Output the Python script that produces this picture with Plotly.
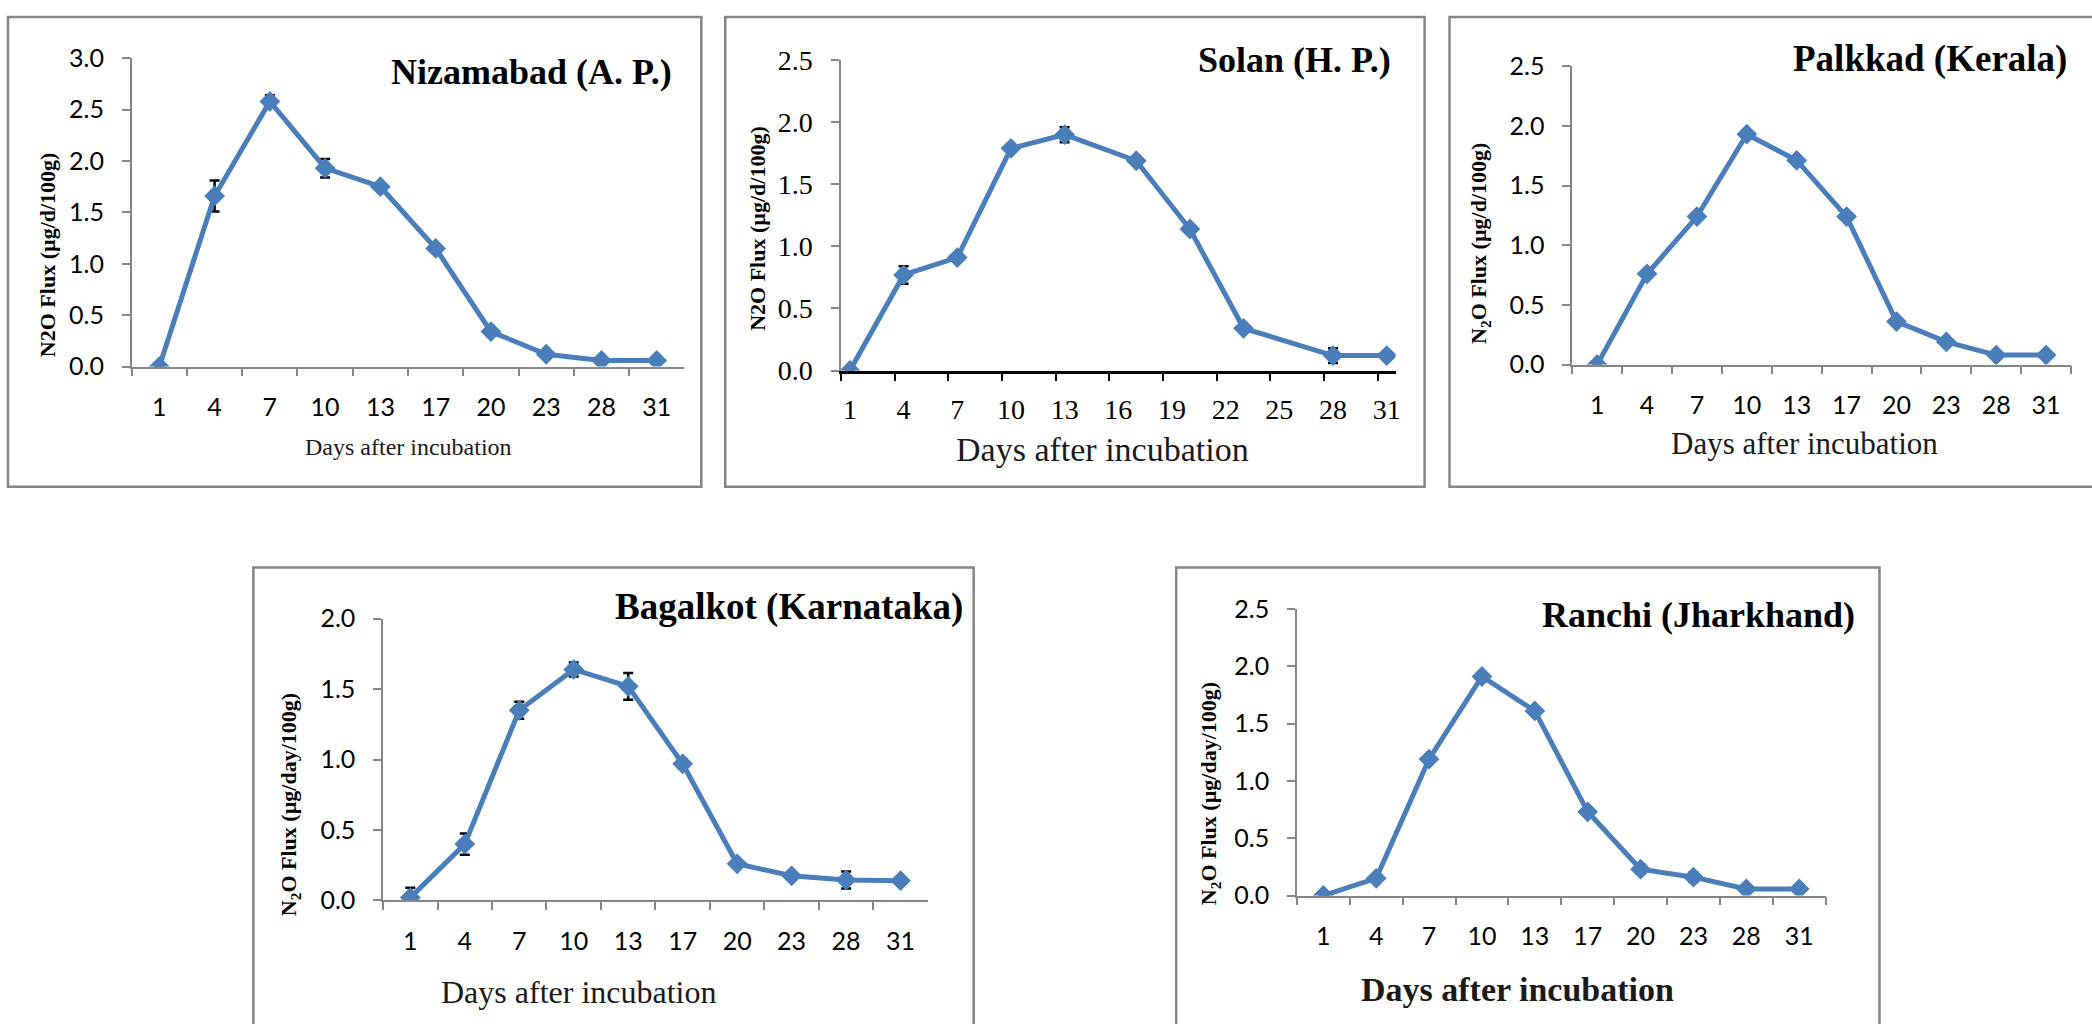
import plotly.graph_objects as go

W, H = 2092, 1024

# Sampling days (days after incubation)
days = [1, 4, 7, 10, 13, 17, 20, 23, 28, 31]
day_labels = [str(d) for d in days]
solan_tick_days = [1, 4, 7, 10, 13, 16, 19, 22, 25, 28, 31]

# N2O flux means and standard errors for each site
nizamabad = [0.0, 1.66, 2.58, 1.93, 1.75, 1.15, 0.34, 0.12, 0.06, 0.06]
nizamabad_err = [0.0, 0.15, 0.06, 0.09, 0.02, 0.02, 0.02, 0.02, 0.02, 0.02]

solan = [0.0, 0.77, 0.91, 1.79, 1.90, 1.69, 1.14, 0.34, 0.12, 0.12]
solan_err = [0.0, 0.07, 0.03, 0.03, 0.06, 0.02, 0.03, 0.02, 0.06, 0.02]

palkkad = [0.0, 0.76, 1.24, 1.93, 1.71, 1.24, 0.36, 0.19, 0.08, 0.08]
palkkad_err = [0.0, 0.02, 0.02, 0.03, 0.02, 0.02, 0.02, 0.02, 0.02, 0.02]

bagalkot = [0.02, 0.40, 1.35, 1.64, 1.52, 0.97, 0.26, 0.175, 0.145, 0.14]
bagalkot_err = [0.07, 0.075, 0.06, 0.05, 0.095, 0.03, 0.02, 0.02, 0.06, 0.02]

ranchi = [0.0, 0.15, 1.19, 1.91, 1.61, 0.73, 0.23, 0.16, 0.057, 0.057]
ranchi_err = [0.0, 0.02, 0.02, 0.02, 0.02, 0.02, 0.04, 0.04, 0.02, 0.02]

site_titles = ["Nizamabad (A. P.)", "Solan (H. P.)", "Palkkad (Kerala)",
               "Bagalkot (Karnataka)", "Ranchi (Jharkhand)"]
y_titles = ["N2O Flux (µg/d/100g)", "N2O Flux (µg/d/100g)",
            "N<sub>2</sub>O Flux (µg/d/100g)",
            "N<sub>2</sub>O Flux (µg/day/100g)",
            "N<sub>2</sub>O Flux (µg/day/100g)"]
x_title = "Days after incubation"
y_max = [3.0, 2.5, 2.5, 2.0, 2.5]

BLUE = "#4a7ebb"
GRAY = "#868686"
SERIF = "Liberation Serif, Times New Roman, serif"
SANS = "Lato, Calibri, Carlito, sans-serif"

# The page shows the figure shifted down a few pixels and slightly squeezed
# vertically; pixel rows below are page rows, converted back to figure rows.
PAGE_OFFSET, PAGE_SCALE = 9.1, 0.9835


def xp(px):
    return px / W


def yp(py):
    return 1 - ((py - PAGE_OFFSET) / PAGE_SCALE) / H


# Pixel layout of each panel: frame box, plot area, title / axis-title anchors
panels = [
    dict(box=(8, 10, 703, 487), xa=(132, 686), ya=(52, 365),
         title=(676, 66, 36), xt=(409, 447, 24, False), yt=(47, 251),
         xstand=18),
    dict(box=(727, 10, 1428, 487), xa=(843, 1399), ya=(54, 369),
         title=(1396, 54, 36), xt=(1105, 449, 34, False), yt=(759, 225),
         xstand=4),
    dict(box=(1453, 10, 2110, 487), xa=(1576, 2076), ya=(60, 363),
         title=(2074, 53, 37), xt=(1809, 443, 31, False), yt=(1484, 240),
         xstand=18),
    dict(box=(254, 569, 976, 1045), xa=(384, 930), ya=(621, 907),
         title=(967, 609, 37), xt=(580, 1000, 32, False), yt=(291, 810),
         xstand=18),
    dict(box=(1179, 569, 1884, 1045), xa=(1300, 1830), ya=(611, 902),
         title=(1861, 617, 36), xt=(1521, 997, 34, True), yt=(1213, 799),
         xstand=18),
]

series = [
    (nizamabad, nizamabad_err),
    (solan, solan_err),
    (palkkad, palkkad_err),
    (bagalkot, bagalkot_err),
    (ranchi, ranchi_err),
]

fig = go.Figure()
shapes = []
annotations = []
layout = {}

for i, (p, (vals, errs)) in enumerate(zip(panels, series)):
    n = i + 1
    xa_name = "xaxis" if n == 1 else f"xaxis{n}"
    ya_name = "yaxis" if n == 1 else f"yaxis{n}"
    xref = "x" if n == 1 else f"x{n}"
    yref = "y" if n == 1 else f"y{n}"
    is_solan = (i == 1)

    xs = days if is_solan else day_labels
    fig.add_trace(go.Scatter(
        x=xs, y=vals, xaxis=xref, yaxis=yref,
        mode="lines+markers",
        line=dict(color=BLUE, width=5),
        marker=dict(symbol="diamond", size=16, color=BLUE),
        error_y=dict(type="data", array=errs, visible=True,
                     color="black", thickness=2.5, width=5),
        showlegend=False, hoverinfo="x+y",
    ))

    tick_font = dict(family=SERIF if is_solan else SANS,
                     size=28 if is_solan else 25, color="black")

    if is_solan:
        xaxis = dict(
            type="linear", range=[0.5, 31.5],
            tickmode="array", tickvals=solan_tick_days,
            ticktext=[str(t) for t in solan_tick_days],
            ticks="outside", ticklen=8, tickcolor="rgba(0,0,0,0)",
            showline=True, linecolor="black", linewidth=2.5,
            minor=dict(tickmode="array",
                       tickvals=[0.5 + 3 * k for k in range(11)],
                       ticks="outside", ticklen=8, tickcolor="black",
                       tickwidth=2, showgrid=False),
        )
    else:
        xaxis = dict(
            type="category", range=[-0.5, len(days) - 0.5],
            tickson="boundaries",
            ticks="outside", ticklen=8, tickcolor=GRAY, tickwidth=1.5,
            showline=True, linecolor=GRAY, linewidth=1.5,
        )
    xaxis.update(
        domain=[xp(p["xa"][0]), xp(p["xa"][1])],
        anchor=yref, showgrid=False, zeroline=False,
        tickfont=tick_font, ticklabelstandoff=p["xstand"], fixedrange=True,
    )
    yaxis = dict(
        domain=[yp(p["ya"][1]), yp(p["ya"][0])],
        anchor=xref, range=[0, y_max[i]], dtick=0.5, tick0=0,
        tickformat=".1f", ticks="outside", ticklen=8,
        tickcolor=GRAY, tickwidth=1.5,
        showline=True, linecolor=GRAY, linewidth=1.5,
        showgrid=False, zeroline=False, tickfont=tick_font,
        ticklabelstandoff=13, fixedrange=True,
    )
    layout[xa_name] = xaxis
    layout[ya_name] = yaxis

    # Panel frame
    x0, y0, x1, y1 = p["box"]
    shapes.append(dict(type="rect", xref="paper", yref="paper",
                       x0=xp(x0), x1=xp(x1), y0=yp(y1), y1=yp(y0),
                       line=dict(color=GRAY, width=2.5), layer="below"))

    # Site name
    tx, ty, ts = p["title"]
    annotations.append(dict(
        text=f"<b>{site_titles[i]}</b>", xref="paper", yref="paper",
        x=xp(tx), y=yp(ty), xanchor="right", yanchor="middle",
        showarrow=False, font=dict(family=SERIF, size=ts, color="black")))

    # X axis title
    cx, cy, cs, bold = p["xt"]
    annotations.append(dict(
        text=f"<b>{x_title}</b>" if bold else x_title,
        xref="paper", yref="paper", x=xp(cx), y=yp(cy),
        xanchor="center", yanchor="middle", showarrow=False,
        font=dict(family=SERIF, size=cs, color="#1a1a1a")))

    # Y axis title
    vx, vy = p["yt"]
    annotations.append(dict(
        text=f"<b>{y_titles[i]}</b>", xref="paper", yref="paper",
        x=xp(vx), y=yp(vy), xanchor="center", yanchor="middle",
        textangle=-90, showarrow=False,
        font=dict(family=SERIF, size=22, color="black")))

fig.update_layout(
    width=W, height=H, margin=dict(l=0, r=0, t=0, b=0),
    paper_bgcolor="white", plot_bgcolor="white",
    showlegend=False, shapes=shapes, annotations=annotations,
    **layout,
)

fig.write_html("out.html", config={"displayModeBar": False})
